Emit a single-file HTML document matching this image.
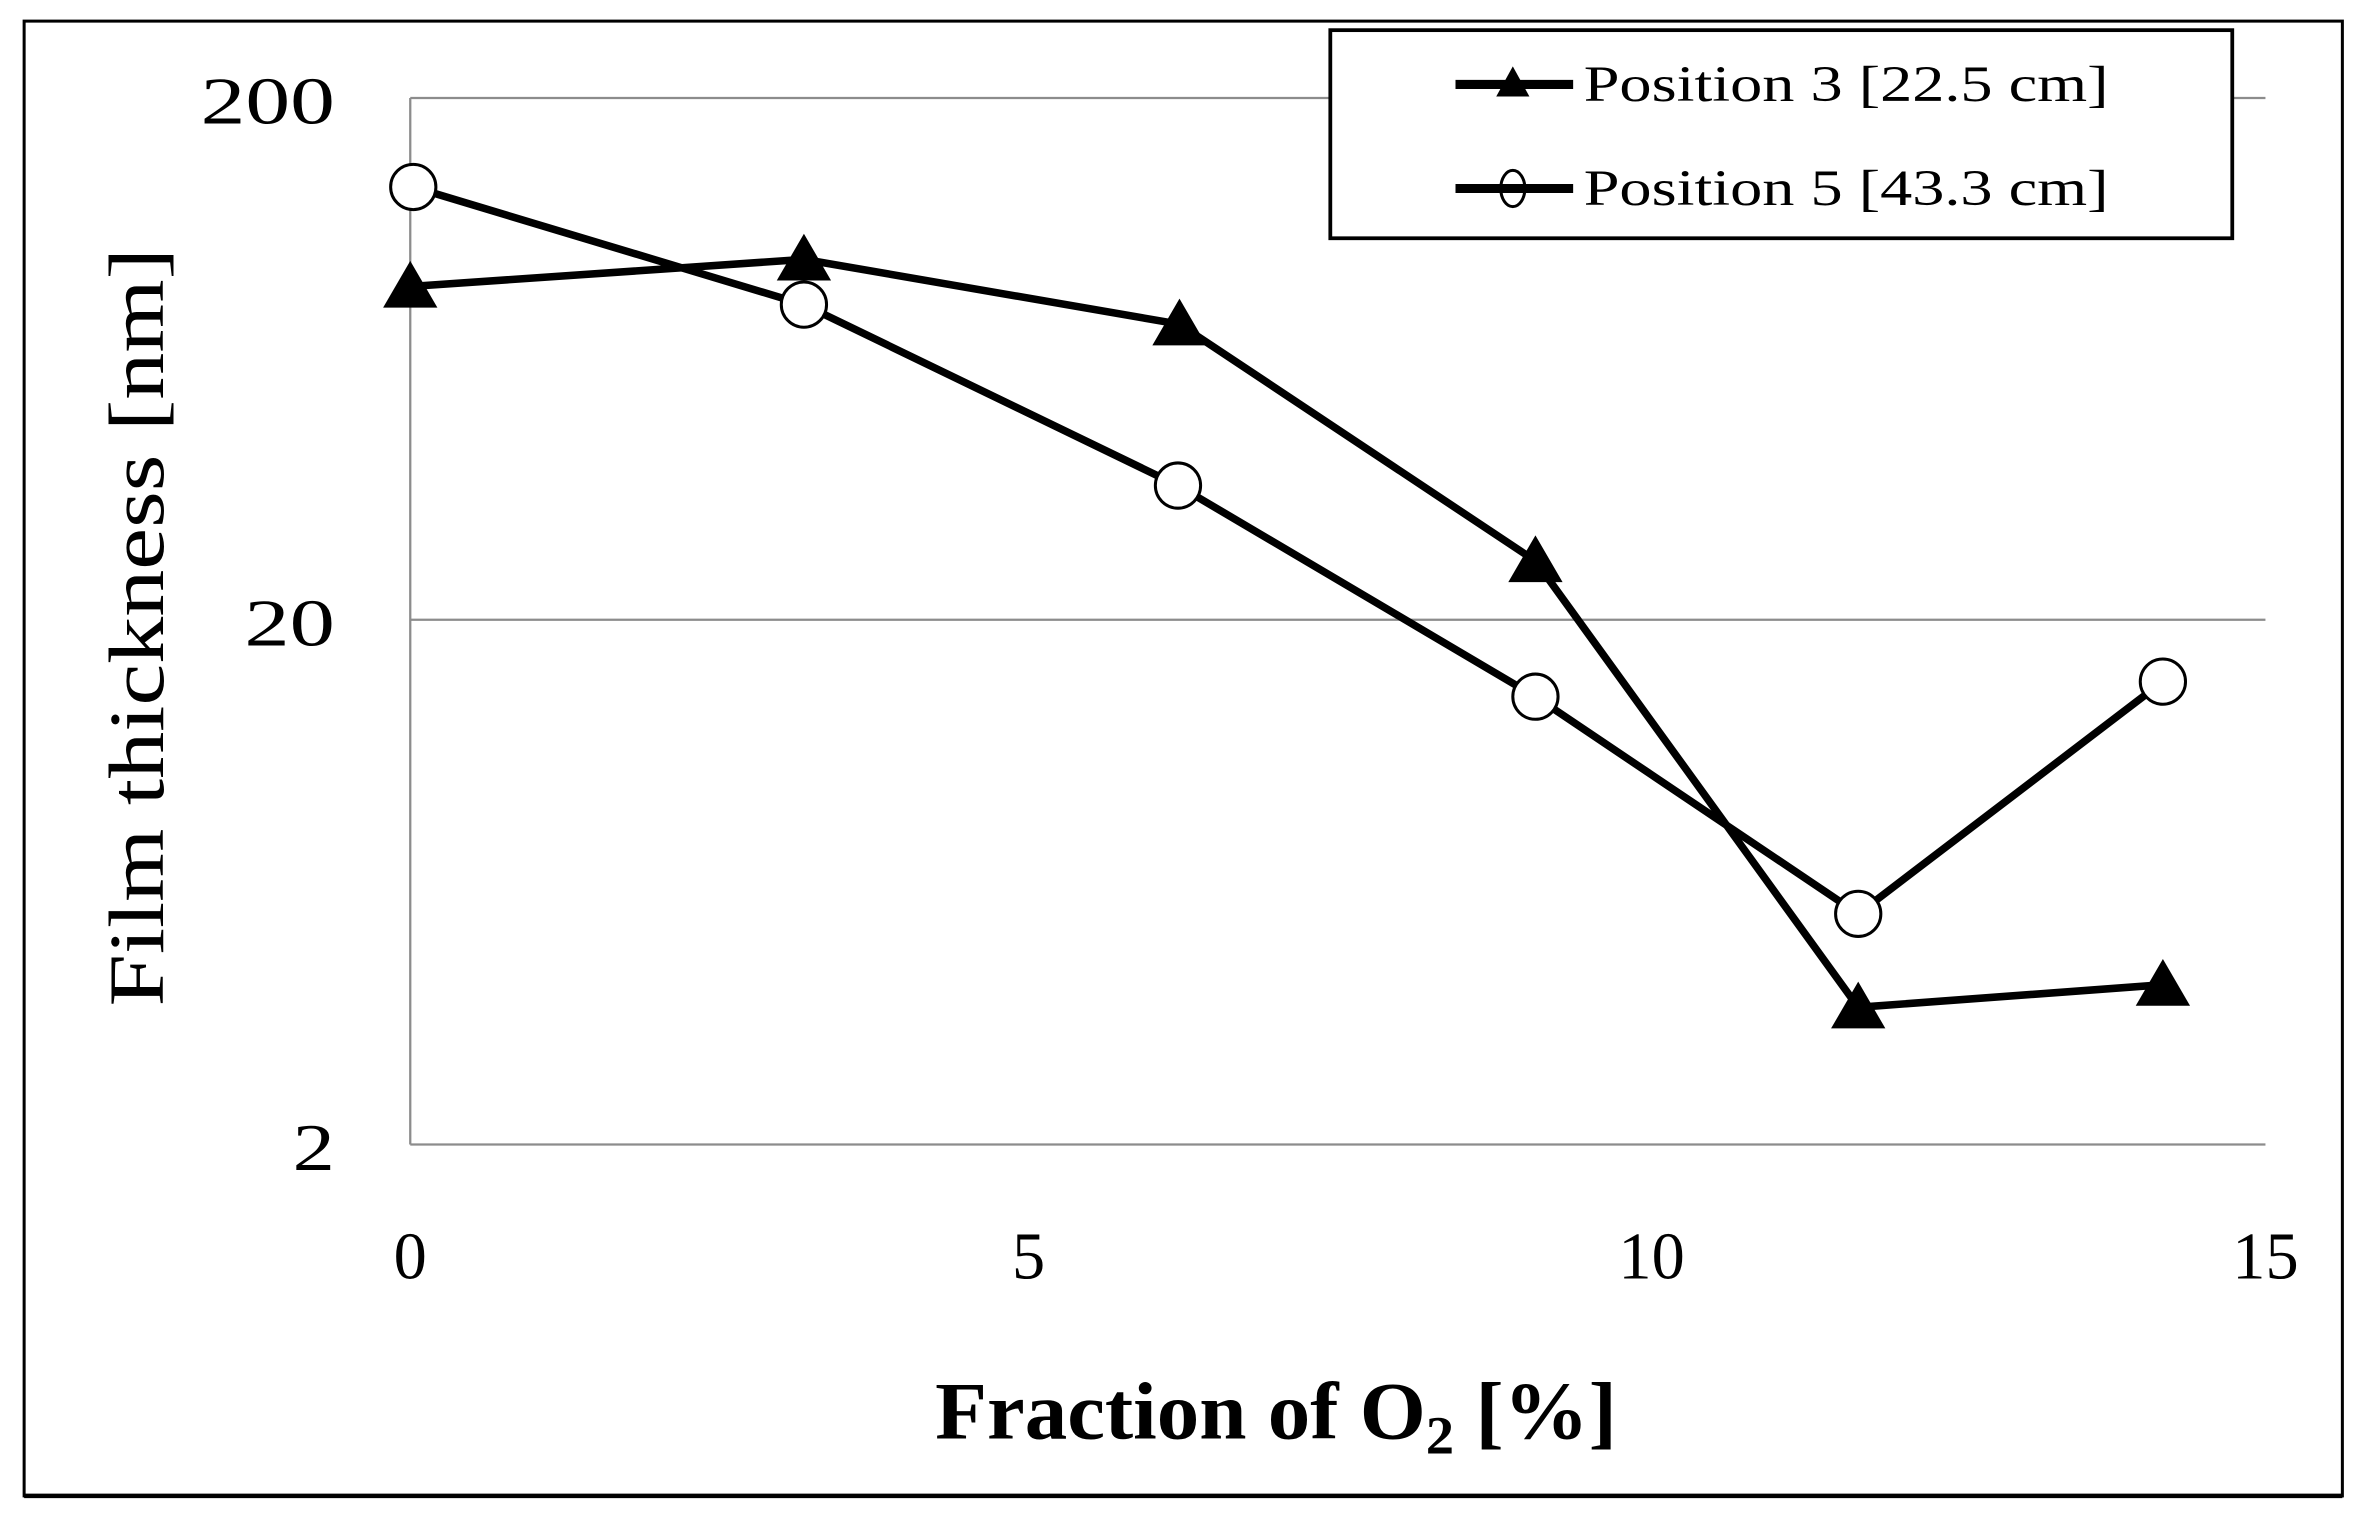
<!DOCTYPE html>
<html><head><meta charset="utf-8"><style>
html,body{margin:0;padding:0;background:#fff;width:2365px;height:1517px;overflow:hidden}
svg{display:block}
text{font-family:"Liberation Serif",serif;fill:#000}
</style></head><body>
<svg width="2365" height="1517" viewBox="0 0 1568 1006" preserveAspectRatio="none">
<rect x="16" y="14" width="1537" height="978" fill="#fff" stroke="#000" stroke-width="2"/>
<line x1="16" y1="992" x2="1553" y2="992" stroke="#000" stroke-width="3"/>
<g stroke="#8c8c8c" stroke-width="1.5">
<line x1="272" y1="65" x2="1502" y2="65"/>
<line x1="272" y1="411" x2="1502" y2="411"/>
<line x1="272" y1="759" x2="1502" y2="759"/>
<line x1="272" y1="65" x2="272" y2="759"/>
</g>
<g font-size="44">
<text x="133" y="82" textLength="89" lengthAdjust="spacingAndGlyphs">200</text>
<text x="162" y="428" textLength="60" lengthAdjust="spacingAndGlyphs">20</text>
<text x="194" y="776" textLength="28" lengthAdjust="spacingAndGlyphs">2</text>
</g>
<g font-size="44" text-anchor="middle">
<text x="272" y="848">0</text>
<text x="682" y="848">5</text>
<text x="1095" y="848">10</text>
<text x="1502" y="848">15</text>
</g>
<text x="620" y="954" font-size="54" font-weight="bold" textLength="452" lengthAdjust="spacingAndGlyphs">Fraction of O<tspan font-size="36" dy="10">2</tspan><tspan dy="-10"> [%]</tspan></text>
<text transform="translate(108,416) rotate(-90)" font-size="52" text-anchor="middle" textLength="503" lengthAdjust="spacingAndGlyphs">Film thickness [nm]</text>
<g fill="none" stroke="#000" stroke-width="5" stroke-linejoin="round">
<polyline points="272,190 533,172 782,215 1018,372 1232,668 1434,653"/>
<polyline points="274,124 533,202 781,322 1018,462 1232,606 1434,452"/>
</g>
<g fill="#000">
<polygon points="272,173 290,204 254,204"/>
<polygon points="533,155 551,186 515,186"/>
<polygon points="782,198 800,229 764,229"/>
<polygon points="1018,355 1036,386 1000,386"/>
<polygon points="1232,651 1250,682 1214,682"/>
<polygon points="1434,636 1452,667 1416,667"/>
</g>
<g fill="#fff" stroke="#000" stroke-width="2">
<circle cx="274" cy="124" r="15"/>
<circle cx="533" cy="202" r="15"/>
<circle cx="781" cy="322" r="15"/>
<circle cx="1018" cy="462" r="15"/>
<circle cx="1232" cy="606" r="15"/>
<circle cx="1434" cy="452" r="15"/>
</g>
<rect x="882" y="20" width="598" height="138" fill="#fff" stroke="#000" stroke-width="2.5"/>
<line x1="965" y1="56" x2="1043" y2="56" stroke="#000" stroke-width="6"/>
<polygon points="1003,44 1014,64 992,64" fill="#000"/>
<line x1="965" y1="125" x2="1043" y2="125" stroke="#000" stroke-width="6"/>
<ellipse cx="1003" cy="125" rx="8" ry="12" fill="none" stroke="#000" stroke-width="2"/>
<g font-size="34">
<text x="1050" y="67" textLength="348" lengthAdjust="spacingAndGlyphs">Position 3 [22.5 cm]</text>
<text x="1050" y="136" textLength="348" lengthAdjust="spacingAndGlyphs">Position 5 [43.3 cm]</text>
</g>
</svg>
</body></html>
